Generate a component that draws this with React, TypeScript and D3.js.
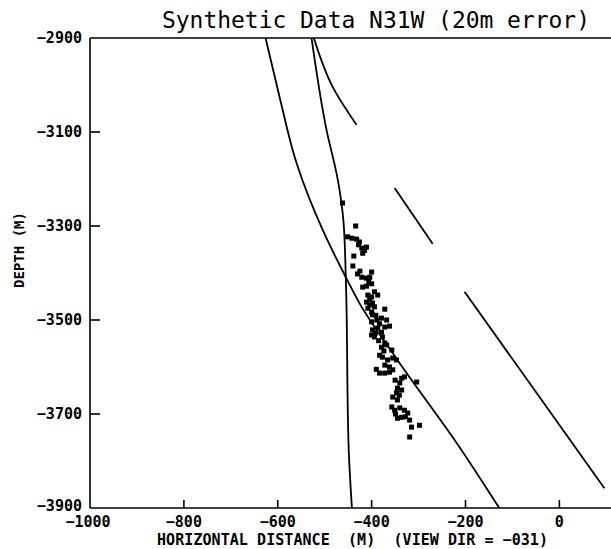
import React from "react";
import * as d3 from "d3";

const title = "Synthetic Data N31W (20m error)";
const xTicks = [-1000, -800, -600, -400, -200, 0];
const yTicks = [-2900, -3100, -3300, -3500, -3700, -3900];

// curves in (horizontal distance, depth)
const lineA = [
  [-626, -2900], [-596, -3026], [-560, -3166], [-504, -3309], [-455, -3409],
  [-426, -3464], [-345, -3585], [-213, -3770], [-128, -3900],
];
const lineB = [
  [-528, -2900], [-496, -3096], [-472, -3202], [-460, -3290], [-455, -3409],
  [-449, -3770], [-442, -3900],
];
const lineC = [[-523, -2900], [-483, -3004], [-432, -3085]];
const lineD = [[-351, -3219], [-270, -3338]];
const lineE = [[-202, -3440], [96, -3858]];

const points = [
  [-462, -3251], [-434, -3300], [-451, -3323], [-442, -3326], [-432, -3328],
  [-428, -3340], [-421, -3347], [-411, -3345], [-419, -3358], [-438, -3364],
  [-440, -3385], [-430, -3402], [-421, -3409], [-400, -3398], [-411, -3411],
  [-404, -3409], [-419, -3430], [-411, -3428], [-400, -3423], [-408, -3447],
  [-400, -3451], [-387, -3447], [-411, -3462], [-404, -3468], [-398, -3464],
  [-408, -3475], [-400, -3483], [-394, -3472], [-372, -3477], [-398, -3489],
  [-400, -3504], [-389, -3500], [-379, -3496], [-368, -3500], [-372, -3515],
  [-362, -3513], [-398, -3521], [-387, -3517], [-379, -3526], [-400, -3532],
  [-394, -3536], [-377, -3536], [-372, -3549], [-379, -3558], [-368, -3553],
  [-357, -3564], [-383, -3575], [-377, -3579], [-366, -3585], [-355, -3581],
  [-347, -3585], [-372, -3596], [-362, -3600], [-383, -3613], [-372, -3613],
  [-362, -3611], [-355, -3606], [-336, -3624], [-330, -3621], [-340, -3634],
  [-345, -3645], [-336, -3649], [-304, -3632], [-347, -3655], [-355, -3664],
  [-345, -3670], [-357, -3685], [-351, -3692], [-340, -3687], [-330, -3692],
  [-323, -3698], [-345, -3709], [-336, -3707], [-319, -3713], [-315, -3728],
  [-298, -3724], [-319, -3749],
  [-426, -3334], [-415, -3352], [-425, -3396], [-406, -3418], [-394, -3440],
  [-404, -3456], [-391, -3490], [-383, -3508], [-392, -3528], [-385, -3544],
  [-374, -3566], [-390, -3605], [-350, -3628], [-341, -3660], [-349, -3700],
  [-328, -3706],
];

export default function App() {
  const width = 611;
  const height = 549;
  const margin = { top: 38, right: 0, bottom: 41, left: 90 };

  const x = d3.scaleLinear().domain([-1000, 110]).range([margin.left, width - margin.right]);
  const y = d3.scaleLinear().domain([-2900, -3900]).range([margin.top, height - margin.bottom]);

  const line = d3
    .line<number[]>()
    .x((d) => x(d[0]))
    .y((d) => y(d[1]))
    .curve(d3.curveMonotoneY);

  const mono = "'DejaVu Sans Mono', monospace";
  const x0 = x(-1000);
  const x1 = width;
  const yTop = y(-2900);
  const yBot = y(-3900);

  return (
    <svg
      width={width}
      height={height}
      style={{ position: "absolute", left: 0, top: 0, background: "#fff" }}
    >
      <text x={162} y={28} fontFamily={mono} fontSize={23} textLength={428} fill="#000">
        {title}
      </text>

      {/* frame */}
      <g stroke="#000" strokeWidth={1.6} fill="none">
        <line x1={x0} x2={x0} y1={yTop} y2={yBot} />
        <line x1={x0} x2={x1} y1={yTop} y2={yTop} />
        <line x1={x0} x2={x1} y1={yBot} y2={yBot} />
        {yTicks.slice(1, -1).map((t) => (
          <line key={t} x1={x0} x2={x0 + 10} y1={y(t)} y2={y(t)} />
        ))}
        {xTicks.slice(1).map((t) => (
          <line key={t} x1={x(t)} x2={x(t)} y1={yBot} y2={yBot - 8} />
        ))}
      </g>

      {/* tick labels */}
      <g fontFamily={mono} fontSize={15} fontWeight="bold" fill="#000">
        {yTicks.map((t) => (
          <text key={t} x={82} y={t === -3900 ? y(t) + 3 : y(t) + 5} textAnchor="end">
            {String(t).replace("-", "\u2212")}
          </text>
        ))}
        {xTicks.map((t) => (
          <text key={t} x={t === -1000 ? x(t) - 2 : x(t)} y={527} textAnchor="middle">
            {String(t).replace("-", "\u2212")}
          </text>
        ))}
      </g>

      <text
        x={157}
        y={545}
        fontFamily={mono}
        fontSize={15}
        fontWeight="bold"
        textLength={391}
        style={{ whiteSpace: "pre" }}
      >
        {"HORIZONTAL DISTANCE  (M)  (VIEW DIR = \u2212031)"}
      </text>
      <text
        transform="translate(24,250) rotate(-90)"
        fontFamily={mono}
        fontSize={14}
        fontWeight="bold"
        textAnchor="middle"
        style={{ whiteSpace: "pre" }}
      >
        {"DEPTH (M)"}
      </text>

      {/* model curves */}
      <g stroke="#000" strokeWidth={1.8} fill="none">
        {[lineA, lineB, lineC, lineD, lineE].map((d, i) => (
          <path key={i} d={line(d) ?? ""} />
        ))}
      </g>

      {/* synthetic data */}
      <g fill="#000">
        {points.map((p, i) => (
          <rect key={i} x={x(p[0]) - 2.5} y={y(p[1]) - 2.5} width={5} height={5} />
        ))}
      </g>
    </svg>
  );
}
